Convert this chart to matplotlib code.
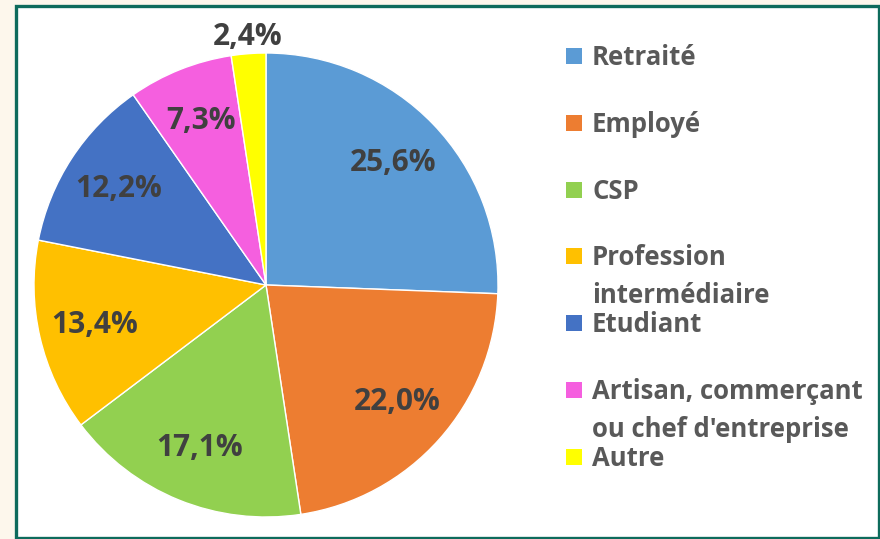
import numpy as np
import matplotlib
matplotlib.use("Agg")
import matplotlib.pyplot as plt
from matplotlib.patches import Rectangle

# data
categories = ["Retraité", "Employé", "CSP", "Profession\nintermédiaire",
              "Etudiant", "Artisan, commerçant\nou chef d'entreprise", "Autre"]
shares = [25.6, 22.0, 17.1, 13.4, 12.2, 7.3, 2.4]
colors = ["#5B9BD5", "#ED7D31", "#92D050", "#FFC000",
          "#4472C4", "#F55FDF", "#FFFF00"]

plt.rcParams["font.family"] = ["Open Sans", "DejaVu Sans"]

W, H = 880, 539
fig = plt.figure(figsize=(W / 100, H / 100), dpi=100)
fig.patch.set_facecolor("#FDF7EC")

# white panel with the green frame
fig.patches.append(Rectangle((15.5 / W, 1.5 / H), 863 / W, 532 / H,
                             transform=fig.transFigure, facecolor="white",
                             edgecolor="#0E6B5C", linewidth=2.4, zorder=-5))

# pie axes: centre ~ (266, 285) px, radius ~ 232 px
cx, cy, r = 266, 285, 232
ax = fig.add_axes([(cx - r) / W, (H - cy - r) / H, 2 * r / W, 2 * r / H])
ax.set_zorder(2)
ax.patch.set_visible(False)

wedges, texts, autotexts = ax.pie(
    shares, colors=colors, startangle=90, counterclock=False, radius=1,
    autopct=lambda p: f"{p:.1f}%".replace(".", ","), pctdistance=0.76,
    wedgeprops=dict(edgecolor="white", linewidth=1.0),
    textprops=dict(fontsize=21.5, fontweight="bold", color="#404040"))
ax.set_xlim(-1, 1)
ax.set_ylim(-1, 1)
ax.axis("off")

# the small slice gets its label outside
w = wedges[-1]
ang = np.deg2rad((w.theta1 + w.theta2) / 2)
autotexts[-1].set_position((1.07 * np.cos(ang), 1.07 * np.sin(ang)))

# legend drawn by hand to keep Excel's even spacing
top = H - 56
step = 66.8
for i, (lab, col) in enumerate(zip(categories, colors)):
    yc = top - i * step
    fig.patches.append(Rectangle((566 / W, (yc - 8) / H), 16 / W, 16 / H,
                                 transform=fig.transFigure, facecolor=col,
                                 edgecolor="none", zorder=3))
    for j, line in enumerate(lab.split("\n")):
        fig.text(592 / W, (yc - 9 - j * 38) / H, line, fontsize=18.5,
                 fontweight="bold", color="#595959", va="baseline", ha="left")

fig.savefig("out.png", dpi=100, facecolor=fig.get_facecolor())
